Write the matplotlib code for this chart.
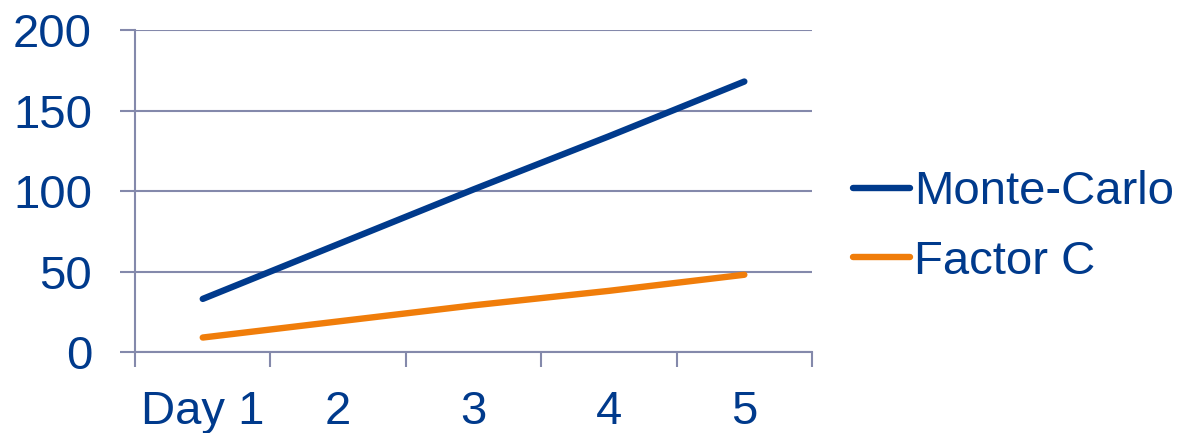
import numpy as np
import matplotlib.pyplot as plt
from matplotlib.ticker import FixedLocator, NullFormatter

days = ["Day 1", "2", "3", "4", "5"]
monte_carlo = [33, 67, 101, 134, 168]
factor_c = [9, 19, 29, 38, 48]

text_col = "#003A8C"
axis_col = "#8489AB"
blue = "#003A8C"
orange = "#F07D0A"

plt.rcParams["font.family"] = ["Liberation Sans", "DejaVu Sans"]

fig = plt.figure(figsize=(11.91, 4.33), dpi=100)
ax = fig.add_axes([0.1134, 0.187, 0.5684, 0.7437])

x = np.arange(len(days))
ax.plot(x, monte_carlo, color=blue, lw=4.6, solid_capstyle="round", label="Monte-Carlo")
ax.plot(x, factor_c, color=orange, lw=4.6, solid_capstyle="round", label="Factor C")

ax.set_xlim(-0.5, len(days) - 0.5)
ax.set_ylim(0, 200)
ax.set_yticks([0, 50, 100, 150, 200])
ax.yaxis.grid(True, color=axis_col, lw=1.5)
ax.set_axisbelow(True)

# category boundaries get the tick marks, labels sit in the middle
ax.xaxis.set_major_locator(FixedLocator(np.arange(-0.5, len(days), 1.0)))
ax.xaxis.set_major_formatter(NullFormatter())
ax.xaxis.set_minor_locator(FixedLocator(x))
ax.set_xticklabels(days, minor=True)
ax.tick_params(axis="x", which="major", length=11, width=1.5, color=axis_col, direction="out")
ax.tick_params(axis="x", which="minor", length=0, pad=27, labelsize=34, labelcolor=text_col)
ax.tick_params(axis="y", length=11, width=1.5, color=axis_col, direction="out",
               pad=20, labelsize=34, labelcolor=text_col)

for side in ("top", "right"):
    ax.spines[side].set_visible(False)
for side in ("left", "bottom"):
    ax.spines[side].set_color(axis_col)
    ax.spines[side].set_linewidth(1.5)

leg = fig.legend(loc="center left", bbox_to_anchor=(853 / 1191, 1 - 227 / 433), frameon=False,
                 fontsize=34, handlelength=1.2, handletextpad=0.1, labelspacing=0.53,
                 borderaxespad=0, borderpad=0)
for t in leg.get_texts():
    t.set_color(text_col)

fig.savefig("out.png", dpi=100)
